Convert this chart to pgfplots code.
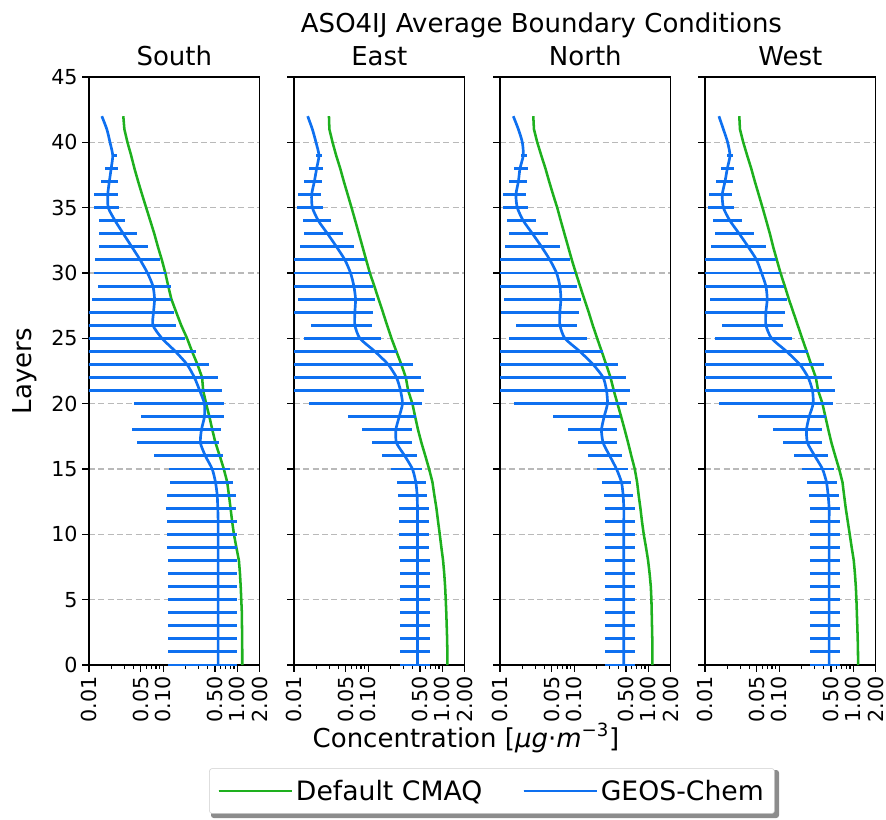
\documentclass[border=0pt]{standalone}
\usepackage{fontspec}
\setmainfont{DejaVu Sans}
\usepackage{pgfplots}
\usepackage{pgfplotstable}
\pgfplotsset{compat=1.18}

\definecolor{cmaq}{RGB}{30,176,30}
\definecolor{geos}{RGB}{14,112,240}
\newcommand{\bigfnt}{\fontsize{19.5}{23}\selectfont}
\newcommand{\legfnt}{\fontsize{20}{24}\selectfont}
\newcommand{\tickfnt}{\fontsize{15.5}{18}\selectfont}

% columns: layer, default CMAQ, GEOS-Chem mean, GEOS-Chem low / high
\pgfplotstableread{
L g m lo hi
0 1.165 0.551 0.115 0.997
1 1.165 0.551 0.115 0.997
2 1.160 0.551 0.115 0.997
3 1.155 0.551 0.115 0.997
4 1.150 0.551 0.115 0.997
5 1.130 0.551 0.115 0.997
6 1.110 0.551 0.115 0.997
7 1.085 0.551 0.115 0.997
8 1.050 0.551 0.115 0.997
9 0.970 0.551 0.1126 0.997
10 0.900 0.551 0.1126 0.997
11 0.850 0.551 0.1126 0.997
12 0.810 0.545 0.1091 0.966
13 0.770 0.535 0.1126 0.9455
14 0.730 0.507 0.122 0.880
15 0.657 0.458 0.1183 0.791
16 0.580 0.371 0.0741 0.644
17 0.507 0.318 0.045 0.574
18 0.460 0.328 0.0385 0.611
19 0.420 0.360 0.0505 0.671
20 0.380 0.360 0.041 0.657
21 0.346 0.311 0.009 0.625
22 0.335 0.264 0.009 0.551
23 0.290 0.210 0.009 0.421
24 0.245 0.146 0.009 0.278
25 0.210 0.0963 0.009 0.199
26 0.175 0.0728 0.009 0.149
27 0.150 0.0741 0.009 0.138
28 0.129 0.0765 0.0111 0.129
29 0.117 0.0728 0.0132 0.129
30 0.107 0.0615 0.0118 0.110
31 0.096 0.049 0.0122 0.0894
32 0.085 0.0378 0.0138 0.0634
33 0.076 0.0291 0.0138 0.045
34 0.067 0.0225 0.0138 0.0307
35 0.059 0.0182 0.0118 0.0257
36 0.052 0.0179 0.0118 0.0245
37 0.046 0.0188 0.0144 0.0249
38 0.041 0.0199 0.0166 0.0249
39 0.037 0.0209 0.0203 0.0237
40 0.033 0.0192 0.0192 0.0192
41 0.030 0.0174 0.0174 0.0174
42 0.029 0.0149 0.0149 0.0149
}\tabS

\pgfplotstableread{
L g m lo hi
0 1.170 0.462 0.267 0.677
1 1.168 0.462 0.267 0.677
2 1.160 0.462 0.267 0.677
3 1.145 0.462 0.267 0.677
4 1.130 0.462 0.267 0.677
5 1.111 0.462 0.267 0.677
6 1.090 0.462 0.267 0.677
7 1.060 0.462 0.267 0.677
8 1.023 0.462 0.267 0.677
9 0.970 0.462 0.259 0.656
10 0.923 0.462 0.259 0.656
11 0.875 0.462 0.259 0.656
12 0.832 0.462 0.259 0.656
13 0.780 0.457 0.2536 0.630
14 0.735 0.4385 0.241 0.598
15 0.663 0.395 0.202 0.539
16 0.590 0.312 0.156 0.457
17 0.523 0.241 0.1133 0.391
18 0.470 0.236 0.0831 0.391
19 0.430 0.262 0.0528 0.448
20 0.395 0.290 0.0159 0.539
21 0.346 0.273 0.009 0.562
22 0.322 0.241 0.009 0.523
23 0.280 0.186 0.009 0.404
24 0.240 0.123 0.009 0.241
25 0.206 0.0773 0.0136 0.148
26 0.180 0.0662 0.0168 0.111
27 0.158 0.0662 0.009 0.117
28 0.138 0.0676 0.0114 0.123
29 0.121 0.0642 0.009 0.1145
30 0.1054 0.0579 0.009 0.1054
31 0.094 0.0486 0.009 0.0903
32 0.084 0.0375 0.0121 0.0642
33 0.075 0.0284 0.0136 0.0461
34 0.067 0.0213 0.0131 0.0312
35 0.0597 0.0177 0.0111 0.0248
36 0.053 0.0173 0.0114 0.0229
37 0.047 0.0188 0.0136 0.0236
38 0.042 0.0202 0.0161 0.0243
39 0.037 0.0217 0.0196 0.0236
40 0.0331 0.0198 0.0198 0.0198
41 0.030 0.0177 0.0177 0.0177
42 0.0296 0.0153 0.0153 0.0153
}\tabE

\pgfplotstableread{
L g m lo hi
0 1.134 0.467 0.259 0.656
1 1.133 0.467 0.259 0.656
2 1.130 0.467 0.259 0.656
3 1.120 0.467 0.259 0.656
4 1.110 0.467 0.259 0.656
5 1.100 0.467 0.259 0.656
6 1.080 0.467 0.259 0.656
7 1.040 0.467 0.259 0.656
8 0.992 0.467 0.259 0.656
9 0.930 0.467 0.259 0.656
10 0.867 0.467 0.259 0.656
11 0.820 0.467 0.259 0.656
12 0.782 0.467 0.259 0.656
13 0.740 0.457 0.2536 0.623
14 0.705 0.434 0.2384 0.592
15 0.656 0.372 0.200 0.534
16 0.590 0.302 0.1545 0.448
17 0.534 0.246 0.111 0.380
18 0.480 0.2335 0.0814 0.380
19 0.430 0.2536 0.0511 0.412
20 0.3835 0.281 0.0154 0.523
21 0.342 0.273 0.009 0.562
22 0.309 0.246 0.009 0.507
23 0.270 0.180 0.009 0.391
24 0.235 0.119 0.009 0.241
25 0.204 0.075 0.0134 0.1467
26 0.178 0.0642 0.0163 0.110
27 0.157 0.0642 0.0102 0.1157
28 0.137 0.0662 0.0113 0.1218
29 0.120 0.0642 0.009 0.110
30 0.1054 0.0579 0.009 0.102
31 0.093 0.0471 0.009 0.0875
32 0.083 0.0364 0.0117 0.0642
33 0.074 0.0275 0.0134 0.0447
34 0.066 0.0206 0.0126 0.0305
35 0.0591 0.0171 0.0109 0.0241
36 0.052 0.0164 0.0111 0.0224
37 0.046 0.0177 0.0134 0.0233
38 0.041 0.0186 0.0156 0.0241
39 0.036 0.0206 0.019 0.0229
40 0.0318 0.020 0.020 0.020
41 0.0287 0.0177 0.0177 0.0177
42 0.0281 0.0151 0.0151 0.0151
}\tabN

\pgfplotstableread{
L g m lo hi
0 1.158 0.4715 0.259 0.670
1 1.155 0.4715 0.259 0.670
2 1.145 0.4715 0.259 0.670
3 1.130 0.4715 0.259 0.670
4 1.115 0.4715 0.259 0.670
5 1.100 0.4715 0.259 0.670
6 1.080 0.4715 0.259 0.670
7 1.050 0.4715 0.259 0.670
8 1.013 0.4715 0.259 0.670
9 0.950 0.4715 0.259 0.670
10 0.894 0.4715 0.259 0.670
11 0.840 0.4715 0.259 0.670
12 0.790 0.4715 0.259 0.670
13 0.750 0.457 0.2536 0.636
14 0.713 0.434 0.2384 0.604
15 0.643 0.3835 0.204 0.545
16 0.570 0.302 0.1577 0.457
17 0.507 0.241 0.1133 0.3835
18 0.460 0.2335 0.0814 0.3835
19 0.420 0.2536 0.0522 0.434
20 0.3835 0.287 0.0156 0.534
21 0.335 0.281 0.009 0.574
22 0.312 0.246 0.009 0.523
23 0.270 0.190 0.009 0.400
24 0.235 0.1257 0.009 0.246
25 0.204 0.079 0.0136 0.1498
26 0.178 0.0662 0.0168 0.1133
27 0.155 0.0662 0.009 0.1193
28 0.135 0.069 0.0117 0.1257
29 0.119 0.0662 0.009 0.1157
30 0.1043 0.0579 0.009 0.102
31 0.093 0.0496 0.009 0.0903
32 0.083 0.0383 0.0119 0.0662
33 0.075 0.029 0.0136 0.0457
34 0.067 0.0217 0.013 0.0312
35 0.0597 0.0177 0.0111 0.0246
36 0.053 0.0171 0.0113 0.0229
37 0.047 0.0186 0.0139 0.0236
38 0.042 0.020 0.0163 0.0246
39 0.037 0.0217 0.020 0.0236
40 0.0328 0.0202 0.0202 0.0202
41 0.0296 0.0177 0.0177 0.0177
42 0.029 0.0154 0.0154 0.0154
}\tabW

\pgfplotsset{
  every axis/.append style={
    scale only axis, width=128pt, height=441pt,
    xmin=0.01, xmax=2, ymin=0, ymax=45,
    xtick={0.01,0.05,0.1,0.5,1,2},
    xticklabels={0.01,0.05,0.10,0.50,1.00,2.00},
    minor xtick={0.02,0.03,0.04,0.06,0.07,0.08,0.09,0.2,0.3,0.4,0.6,0.7,0.8,0.9},
    ytick={0,5,...,45},
    xtick pos=bottom, ytick pos=left, tick align=outside,
    major tick length=5pt, minor tick length=3pt,
    tick style={black, line width=0.9pt},
    axis line style={line width=1pt},
    ymajorgrids, grid style={gray!55, line width=0.9pt, dash pattern=on 4.5pt off 2.5pt},
    xticklabel style={rotate=90, anchor=east, font=\tickfnt},
    yticklabel style={font=\tickfnt},
    title style={font=\bigfnt, at={(0.5,1)}, anchor=base, yshift=2.5pt},
  },
  /pgf/number format/assume math mode=true,
  % line, then some empty room before the entry text
  legend image code/.code={\draw[#1] (0pt,0pt) -- (42pt,0pt); \path (0pt,0pt) -- (55pt,0pt);},
}

\newcommand{\profiles}[1]{%
  \addplot[forget plot, cmaq, line width=1.9pt] table[x=g, y=L] {#1};
  \addplot[forget plot, geos, line width=2pt, smooth, tension=0.4,
    error bars/.cd, x dir=both, x explicit, error mark=none,
    error bar style={geos, line width=2.2pt}]
    table[x=m, y=L,
    x error plus expr=\thisrow{hi}-\thisrow{m},
    x error minus expr=\thisrow{m}-\thisrow{lo}] {#1};
}

\begin{document}
\begin{tikzpicture}
% legend shadow
\fill[black!45, rounded corners=2pt] (158.25pt,0.75pt) rectangle (584.25pt,36.75pt);
\begin{semilogxaxis}[anchor=south west, at={(66.75pt,115.5pt)}, title={South},
  legend columns=2,
  legend style={at={(2.361,-0.2143)}, anchor=center, font=\legfnt,
    draw=black!20, fill=white, rounded corners=2pt,
    inner xsep=6pt, inner ysep=6.5pt,
    /tikz/every even column/.append style={column sep=28pt}}]
  \profiles{\tabS}
  \addlegendimage{cmaq, line width=1.9pt}
  \addlegendentry{Default CMAQ}
  \addlegendimage{geos, line width=1.9pt}
  \addlegendentry{GEOS-Chem}
\end{semilogxaxis}
\begin{semilogxaxis}[anchor=south west, at={(220.5pt,115.5pt)}, title={East}, yticklabels={}]
  \profiles{\tabE}
\end{semilogxaxis}
\begin{semilogxaxis}[anchor=south west, at={(375pt,115.5pt)}, title={North}, yticklabels={}]
  \profiles{\tabN}
\end{semilogxaxis}
\begin{semilogxaxis}[anchor=south west, at={(528.75pt,115.5pt)}, title={West}, yticklabels={}]
  \profiles{\tabW}
\end{semilogxaxis}
\node[font=\bigfnt, anchor=base] at (406.1pt,589.5pt) {ASO4IJ Average Boundary Conditions};
\node[font=\bigfnt, rotate=90] at (18.75pt,336pt) {Layers};
\node[font=\bigfnt, anchor=base] at (349.5pt,54pt) {Concentration [{\itshape μg}·{\itshape m}\textsuperscript{−3}]};
\pgfresetboundingbox
\path[use as bounding box] (0,0) rectangle (664.5pt,614.25pt);
\end{tikzpicture}
\end{document}
